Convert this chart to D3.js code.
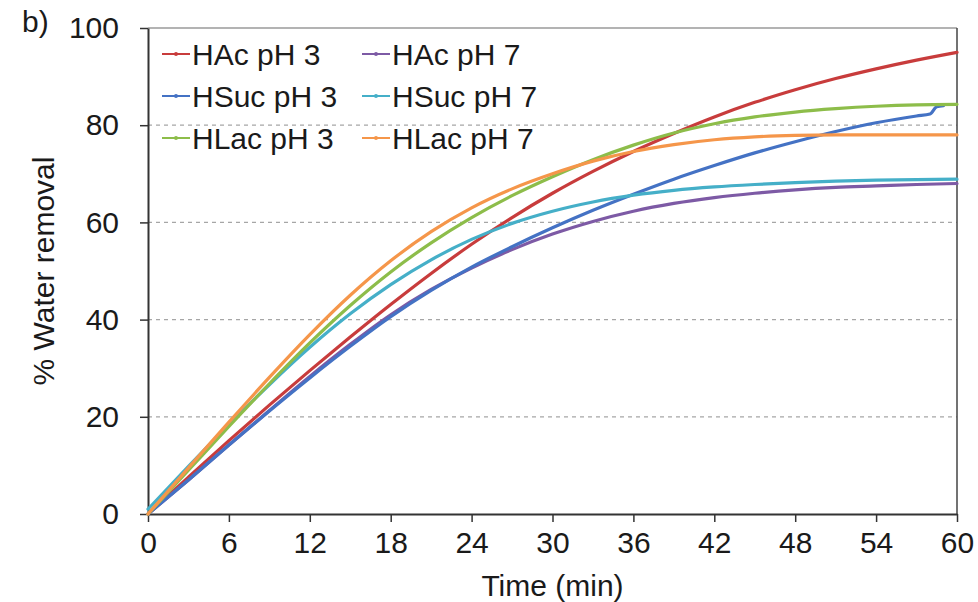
<!DOCTYPE html>
<html>
<head>
<meta charset="utf-8">
<script src="https://cdn.jsdelivr.net/npm/d3@7"></script>
<style>
  body { margin: 0; background: #fff; }
  svg text { font-family: "Liberation Sans", Arial, sans-serif; fill: #1a1a1a; }
</style>
</head>
<body>
<div id="chart"></div>
<script>
// data, time in minutes
const times = [0, 3, 6, 9, 12, 15, 18, 21, 24, 27, 30, 33, 36, 39, 42, 45, 48, 51, 54, 57, 60];
const hacPh3 = [0, 7.6, 15.1, 22.4, 29.5, 36.4, 43.1, 49.5, 55.5, 61, 66, 70.5, 74.6, 78.3, 81.7, 84.7, 87.3, 89.6, 91.6, 93.4, 95];
const hacPh7 = [0, 7, 14.2, 21.3, 28.3, 34.9, 41, 46.2, 50.6, 54.4, 57.6, 60.2, 62.3, 63.9, 65.1, 66, 66.7, 67.2, 67.5, 67.8, 68];
// HSuc pH 3 stops a bit before 60 with a small jump
const hsucPh3Times = [0, 3, 6, 9, 12, 15, 18, 21, 24, 27, 30, 33, 36, 39, 42, 45, 48, 51, 54, 57, 58, 58.5, 59];
const hsucPh3 = [0, 7, 14.2, 21.2, 28, 34.5, 40.6, 46, 50.8, 55, 58.9, 62.5, 65.8, 68.9, 71.7, 74.3, 76.6, 78.7, 80.5, 81.9, 82.3, 83.8, 84];
const hsucPh7 = [1, 9.8, 18.4, 26.6, 34.3, 41.2, 47.2, 52.3, 56.5, 59.8, 62.3, 64.2, 65.6, 66.6, 67.3, 67.8, 68.2, 68.5, 68.7, 68.8, 68.9];
const hlacPh3 = [0, 9, 18, 26.8, 35.2, 42.9, 49.8, 55.8, 61, 65.5, 69.4, 72.9, 75.9, 78.4, 80.3, 81.7, 82.7, 83.4, 83.9, 84.2, 84.3];
const hlacPh7 = [0, 9.5, 18.9, 28.1, 36.9, 45, 52.1, 58.1, 63, 66.9, 70, 72.6, 74.6, 76, 77, 77.6, 77.9, 78, 78, 78, 78];

const seriesNames = ["HAc pH 3", "HAc pH 7", "HSuc pH 3", "HSuc pH 7", "HLac pH 3", "HLac pH 7"];
const seriesColors = ["#c83c3c", "#7d5aa5", "#4472c4", "#45afc8", "#8dbd4a", "#f5964a"];
const xTicks = [0, 6, 12, 18, 24, 30, 36, 42, 48, 54, 60];
const yTicks = [0, 20, 40, 60, 80, 100];

const series = [
  { t: times, v: hacPh3 },
  { t: times, v: hacPh7 },
  { t: hsucPh3Times, v: hsucPh3 },
  { t: times, v: hsucPh7 },
  { t: times, v: hlacPh3 },
  { t: times, v: hlacPh7 }
].map((s, i) => ({
  name: seriesNames[i],
  color: seriesColors[i],
  points: s.t.map((t, j) => ({ t: t, v: s.v[j] }))
}));

// setup sizes so the plot lands where it is in the picture
const W = 978, H = 602;
const margin = { top: 28, right: 21, bottom: 88, left: 148 };
const width = W - margin.left - margin.right;
const height = H - margin.top - margin.bottom;

const svg = d3.select("#chart").append("svg")
  .attr("width", W)
  .attr("height", H);

const g = svg.append("g")
  .attr("transform", `translate(${margin.left},${margin.top})`);

const x = d3.scaleLinear().domain([0, 60]).range([0, width]);
const y = d3.scaleLinear().domain([0, 100]).range([height, 0]);

// dashed grid lines
g.selectAll(".grid")
  .data(yTicks.filter(d => d > 0 && d < 100))
  .enter().append("line")
  .attr("x1", 0).attr("x2", width)
  .attr("y1", d => y(d)).attr("y2", d => y(d))
  .attr("stroke", "#a6a6a6")
  .attr("stroke-width", 1.2)
  .attr("stroke-dasharray", "4,4");

// frame top + right
g.append("line")
  .attr("x1", 0).attr("x2", width).attr("y1", 0).attr("y2", 0)
  .attr("stroke", "#9a9a9a").attr("stroke-width", 1.5);
g.append("line")
  .attr("x1", width).attr("x2", width).attr("y1", 0).attr("y2", height)
  .attr("stroke", "#444").attr("stroke-width", 1.5);

// axes
const xAxis = g.append("g")
  .attr("transform", `translate(0,${height})`)
  .call(d3.axisBottom(x).tickValues(xTicks).tickSize(8).tickSizeOuter(0).tickPadding(10));
const yAxis = g.append("g")
  .call(d3.axisLeft(y).tickValues(yTicks).tickSize(8).tickSizeOuter(0).tickPadding(21));

[xAxis, yAxis].forEach(a => {
  a.select(".domain").attr("stroke", "#333").attr("stroke-width", 2);
  a.selectAll(".tick line").attr("stroke", "#333").attr("stroke-width", 1.5);
  a.selectAll(".tick text").style("font-size", "30px").attr("fill", "#1a1a1a");
});

// lines
const line = d3.line()
  .x(d => x(d.t))
  .y(d => y(d.v))
  .curve(d3.curveMonotoneX);

g.selectAll(".series")
  .data(series)
  .enter().append("path")
  .attr("class", "series")
  .attr("d", d => line(d.points))
  .attr("fill", "none")
  .attr("stroke", d => d.color)
  .attr("stroke-width", 3.2)
  .attr("stroke-linejoin", "round")
  .attr("stroke-linecap", "round");

// legend, two columns three rows
const legend = svg.append("g");
series.forEach((s, i) => {
  const col = i % 2, row = Math.floor(i / 2);
  const lx = 162 + col * 200, ly = 54 + row * 42;
  legend.append("line")
    .attr("x1", lx).attr("x2", lx + 28).attr("y1", ly).attr("y2", ly)
    .attr("stroke", s.color).attr("stroke-width", 2);
  legend.append("circle")
    .attr("cx", lx + 14).attr("cy", ly).attr("r", 2)
    .attr("fill", s.color);
  legend.append("text")
    .attr("x", lx + 30).attr("y", ly)
    .attr("dy", "0.36em")
    .style("font-size", "30px")
    .text(s.name);
});

// axis titles
svg.append("text")
  .attr("x", margin.left + width / 2)
  .attr("y", 596)
  .attr("text-anchor", "middle")
  .style("font-size", "30px")
  .text("Time (min)");

svg.append("text")
  .attr("transform", `translate(54,${margin.top + height / 2}) rotate(-90)`)
  .attr("text-anchor", "middle")
  .style("font-size", "30px")
  .text("% Water removal");

svg.append("text")
  .attr("x", 22).attr("y", 32)
  .style("font-size", "30px")
  .text("b)");
</script>
</body>
</html>
